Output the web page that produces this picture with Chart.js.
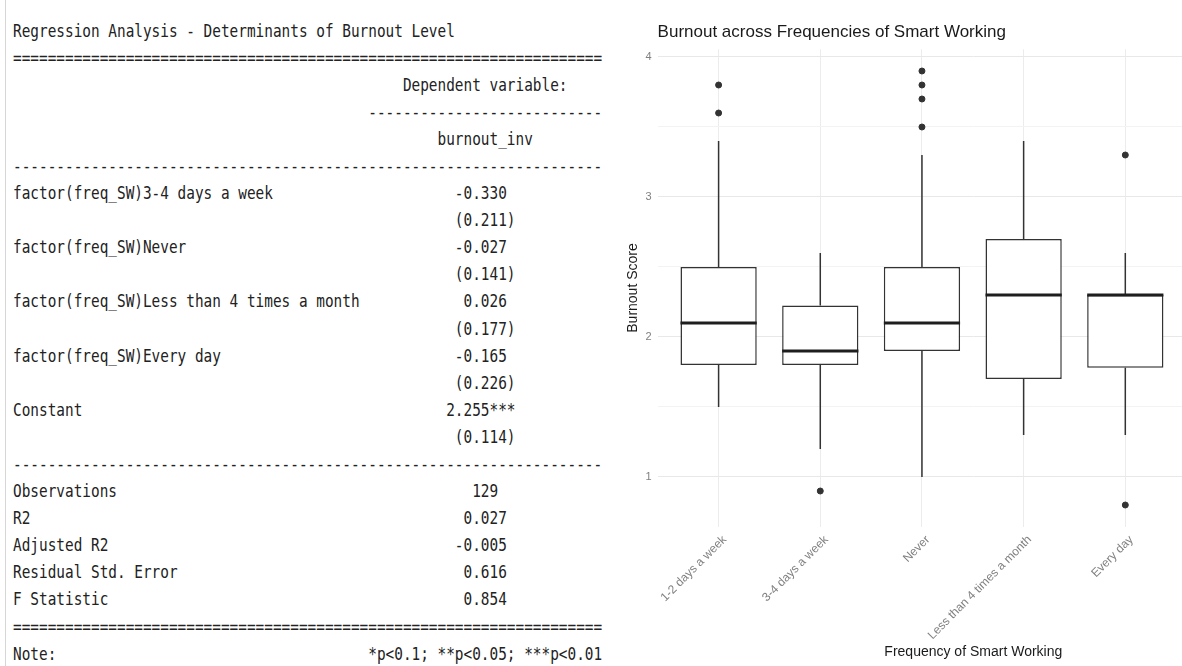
<!DOCTYPE html>
<html>
<head>
<meta charset="utf-8">
<script src="https://cdn.jsdelivr.net/npm/chart.js@4.4.1/dist/chart.umd.min.js"></script>
<style>
  html, body { margin: 0; padding: 0; width: 1182px; height: 666px; overflow: hidden; background: #fff; }
  #rule { position: absolute; left: 5px; top: 0; width: 1px; height: 666px; background: #d6d6d6; }
  #table {
    position: absolute; left: 13px; top: 17.5px; margin: 0;
    font-family: "DejaVu Sans Mono", monospace; font-size: 16.9px; line-height: 27.1px;
    color: #222; white-space: pre; transform: scaleX(0.852); transform-origin: 0 0;
  }
  #plot { position: absolute; left: 610px; top: 0; }
</style>
</head>
<body>
<div id="rule"></div>
<pre id="table"></pre>
<canvas id="plot" width="683" height="666"></canvas>
<script>
// box plot values, one entry per category
const categories = ["1-2 days a week", "3-4 days a week", "Never", "Less than 4 times a month", "Every day"];
const whiskerLow = [1.5, 1.2, 1.0, 1.3, 1.3];
const boxLow = [1.8, 1.8, 1.9, 1.7, 1.78];
const median = [2.1, 1.9, 2.1, 2.3, 2.3];
const boxHigh = [2.5, 2.225, 2.5, 2.7, 2.3];
const whiskerHigh = [3.4, 2.6, 3.3, 3.4, 2.6];
const outliers = [[3.6, 3.8], [0.9], [3.5, 3.7, 3.8, 3.9], [], [0.8, 3.3]];
const yTicks = [1, 1.5, 2, 2.5, 3, 3.5, 4];

// regression table rows: [label, value, column where value starts]
const tableRows = [
  ["factor(freq_SW)3-4 days a week", "-0.330", 51],
  ["", "(0.211)", 51],
  ["factor(freq_SW)Never", "-0.027", 51],
  ["", "(0.141)", 51],
  ["factor(freq_SW)Less than 4 times a month", "0.026", 52],
  ["", "(0.177)", 51],
  ["factor(freq_SW)Every day", "-0.165", 51],
  ["", "(0.226)", 51],
  ["Constant", "2.255***", 50],
  ["", "(0.114)", 51],
];
const statRows = [
  ["Observations", "129", 53],
  ["R2", "0.027", 52],
  ["Adjusted R2", "-0.005", 51],
  ["Residual Std. Error", "0.616", 52],
  ["F Statistic", "0.854", 52],
];

const WIDTH = 68;
const row = ([label, value, col]) => label.padEnd(col, " ") + value;
const lines = [
  "Regression Analysis - Determinants of Burnout Level",
  "=".repeat(WIDTH),
  " ".repeat(45) + "Dependent variable:",
  " ".repeat(41) + "-".repeat(27),
  " ".repeat(49) + "burnout_inv",
  "-".repeat(WIDTH),
  ...tableRows.map(row),
  "-".repeat(WIDTH),
  ...statRows.map(row),
  "=".repeat(WIDTH),
  row(["Note:", "*p<0.1; **p<0.05; ***p<0.01", 41]),
];
document.getElementById("table").textContent = lines.join("\n");

// whiskers and medians are drawn on top of the floating bars
const whiskerPlugin = {
  id: "whiskers",
  afterDatasetsDraw(chart) {
    const { ctx, scales: { x, y } } = chart;
    const half = x.getPixelForValue(1.375) - x.getPixelForValue(1);
    ctx.save();
    categories.forEach((c, i) => {
      const px = x.getPixelForValue(i + 1);
      ctx.strokeStyle = "#333";
      ctx.lineWidth = 1.5;
      ctx.beginPath();
      ctx.moveTo(px, y.getPixelForValue(whiskerHigh[i]));
      ctx.lineTo(px, y.getPixelForValue(boxHigh[i]));
      ctx.moveTo(px, y.getPixelForValue(boxLow[i]));
      ctx.lineTo(px, y.getPixelForValue(whiskerLow[i]));
      ctx.stroke();
      ctx.strokeStyle = "#1e1e1e";
      ctx.lineWidth = 3;
      ctx.beginPath();
      ctx.moveTo(px - half, y.getPixelForValue(median[i]));
      ctx.lineTo(px + half, y.getPixelForValue(median[i]));
      ctx.stroke();
    });
    ctx.restore();
  },
};

const zeroPadding = (scale) => {
  scale.paddingLeft = 0;
  scale.paddingRight = 0;
  scale.paddingTop = 0;
  scale.paddingBottom = 0;
};

new Chart(document.getElementById("plot"), {
  type: "bar",
  data: {
    datasets: [
      {
        type: "scatter",
        data: outliers.flatMap((vals, i) => vals.map((v) => ({ x: i + 1, y: v }))),
        backgroundColor: "#333",
        borderColor: "#333",
        pointRadius: 3,
        pointHoverRadius: 3,
      },
      {
        type: "bar",
        data: categories.map((c, i) => ({ x: i + 1, y: [boxLow[i], boxHigh[i]] })),
        backgroundColor: "#fff",
        borderColor: "#333",
        borderWidth: 1.5,
        borderSkipped: false,
        categoryPercentage: 1,
        barPercentage: 0.75,
      },
    ],
  },
  options: {
    responsive: false,
    animation: false,
    layout: { padding: 0 },
    plugins: {
      legend: { display: false },
      tooltip: { enabled: false },
      title: {
        display: true,
        text: "Burnout across Frequencies of Smart Working",
        align: "start",
        fullSize: false,
        color: "#1a1a1a",
        font: { family: "'Liberation Sans', Arial, sans-serif", size: 17, weight: "normal" },
        padding: { top: 22.1, bottom: 6.8 },
      },
    },
    scales: {
      x: {
        type: "linear",
        min: 0.4,
        max: 6.61,
        offset: false,
        border: { display: false },
        grid: { offset: false, drawTicks: false, color: "#ececec", lineWidth: 1 },
        afterBuildTicks: (scale) => {
          scale.ticks = categories.map((c, i) => ({ value: i + 1 }));
        },
        afterFit: (scale) => {
          scale.height = 139.3;
          zeroPadding(scale);
        },
        ticks: {
          autoSkip: false,
          minRotation: 45,
          maxRotation: 45,
          padding: 6,
          labelOffset: 6,
          color: "#808080",
          font: { family: "'Liberation Sans', Arial, sans-serif", size: 12 },
          callback: (v) => categories[v - 1] || "",
        },
        title: {
          display: true,
          text: "Frequency of Smart Working",
          color: "#1a1a1a",
          font: { family: "'Liberation Sans', Arial, sans-serif", size: 14 },
          padding: { top: 0, bottom: 5.3 },
        },
      },
      y: {
        min: 0.645,
        max: 4.055,
        beginAtZero: false,
        border: { display: false },
        grid: {
          drawTicks: false,
          color: (ctx) => (ctx.tick && ctx.tick.value % 1 === 0 ? "#e8e8e8" : "#f3f3f3"),
          lineWidth: 1,
        },
        afterBuildTicks: (scale) => {
          scale.ticks = yTicks.map((v) => ({ value: v }));
        },
        afterFit: (scale) => {
          scale.width = 47.6;
          zeroPadding(scale);
        },
        ticks: {
          padding: 6,
          color: "#808080",
          font: { family: "'Liberation Sans', Arial, sans-serif", size: 11 },
          callback: (v) => (v % 1 === 0 ? String(v) : ""),
        },
        title: {
          display: true,
          text: "Burnout Score",
          color: "#1a1a1a",
          font: { family: "'Liberation Sans', Arial, sans-serif", size: 14 },
          padding: { top: 14.6, bottom: 0 },
        },
      },
    },
  },
  plugins: [whiskerPlugin],
});
</script>
</body>
</html>
